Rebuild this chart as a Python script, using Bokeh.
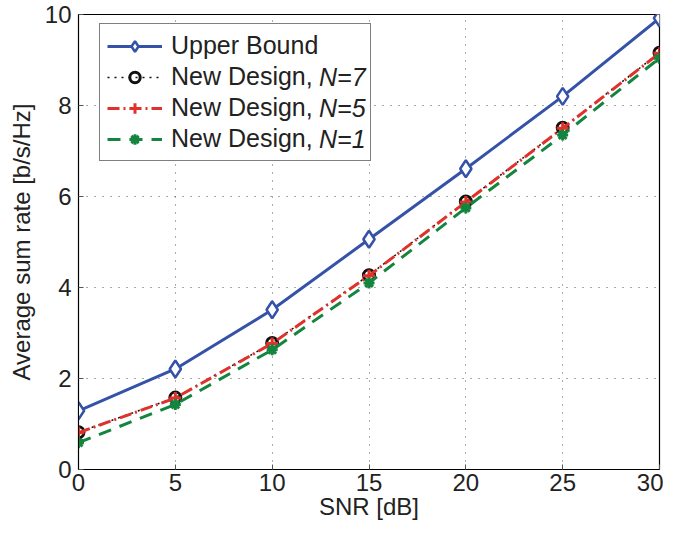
from bokeh.plotting import figure
from bokeh.models import Legend, LegendItem, FixedTicker
from bokeh.embed import file_html
from bokeh.resources import INLINE

# ---- data ----
snr = [0, 5, 10, 15, 20, 25, 30]
upper_bound = [1.29, 2.21, 3.51, 5.06, 6.61, 8.20, 9.92]
new_n7 = [0.82, 1.58, 2.78, 4.27, 5.89, 7.51, 9.16]
new_n5 = [0.81, 1.57, 2.77, 4.26, 5.88, 7.50, 9.15]
new_n1 = [0.59, 1.43, 2.63, 4.10, 5.75, 7.35, 9.04]
x_ticks = [0, 5, 10, 15, 20, 25, 30]
y_ticks = [0, 2, 4, 6, 8, 10]

FONT = "Liberation Sans"
BLUE = "#3452A8"
RED = "#E0312B"
GREEN = "#13853F"
BLACK = "#111111"

p = figure(width=663, height=523, output_backend="svg", toolbar_location=None,
           x_range=(0, 30), y_range=(0, 10),
           min_border_left=78, min_border_right=4, min_border_top=14, min_border_bottom=54)
p.background_fill_color = "white"
p.border_fill_color = "white"
p.outline_line_color = "black"
p.outline_line_width = 1.2

for ax in (p.xaxis[0], p.yaxis[0]):
    ax.major_label_text_font = FONT
    ax.major_label_text_font_size = "24px"
    ax.major_label_text_color = "#222222"
    ax.axis_label_text_font = FONT
    ax.axis_label_text_font_size = "24px"
    ax.axis_label_text_font_style = "normal"
    ax.axis_label_text_color = "#222222"
    ax.major_tick_in = 5
    ax.major_tick_out = 0
    ax.minor_tick_in = 0
    ax.minor_tick_out = 0
    ax.axis_line_color = "black"
    ax.major_tick_line_color = "#555555"

p.xaxis.ticker = FixedTicker(ticks=x_ticks)
p.yaxis.ticker = FixedTicker(ticks=y_ticks)
p.xaxis.axis_label = "SNR [dB]"
p.yaxis.axis_label = "Average sum rate [b/s/Hz]"
p.xaxis.major_label_standoff = 4
p.xaxis.axis_label_standoff = -1
p.yaxis.major_label_standoff = 7
p.yaxis.axis_label_standoff = 7

p.grid.grid_line_color = "#555555"
p.grid.grid_line_dash = "1 7"
p.grid.grid_line_width = 1

# ---- series ----
l_up = p.line(snr, upper_bound, line_color=BLUE, line_width=3)
m_up = p.scatter(snr, upper_bound, marker="diamond", size=17, line_color=BLUE,
                 line_width=2.5, fill_color="white")

l_n7 = p.line(snr, new_n7, line_color=BLACK, line_width=1.5, line_dash="2 5")
m_n7 = p.scatter(snr, new_n7, marker="circle", size=11, line_color=BLACK,
                 line_width=3, fill_color=None)

l_n5 = p.line(snr, new_n5, line_color=RED, line_width=3, line_dash="12 4 2 4")
m_n5 = p.scatter(snr, new_n5, marker="cross", size=12, line_color=RED, line_width=3)

l_n1 = p.line(snr, new_n1, line_color=GREEN, line_width=3, line_dash="13 9")
m_n1 = p.scatter(snr, new_n1, marker="asterisk", size=11, line_color=GREEN, line_width=3)

labels = ["Upper Bound", "New Design, ", "New Design, ", "New Design, "]
italic_parts = ["N=7", "N=5", "N=1"]

PAD = 7
SPACING = 2
LEG_X, LEG_Y = 21, 308

legend = Legend(items=[
    LegendItem(label=labels[0], renderers=[l_up, m_up]),
    LegendItem(label=labels[1], renderers=[l_n7, m_n7]),
    LegendItem(label=labels[2], renderers=[l_n5, m_n5]),
    LegendItem(label=labels[3], renderers=[l_n1, m_n1]),
], location=(LEG_X, LEG_Y))
legend.label_text_font = FONT
legend.label_text_font_size = "25px"
legend.label_text_color = "#222222"
legend.glyph_width = 55
legend.glyph_height = 26
legend.label_height = 26
legend.label_width = 192
legend.label_standoff = 9
legend.padding = PAD
legend.spacing = SPACING
legend.margin = 0
legend.border_line_color = "black"
legend.border_line_width = 1.5
legend.background_fill_color = "white"
legend.background_fill_alpha = 1
p.add_layout(legend)

# second, transparent legend carrying the italic "N=.." parts
em_new_design = 12179 / 2048.0  # width of "New Design, " in em (Arial metrics)
dummy = p.line(x=[], y=[], line_alpha=0)
glyph_w = int(round(55 + em_new_design * 25))
legend2 = Legend(items=[LegendItem(label=t, renderers=[dummy]) for t in italic_parts],
                 location=(LEG_X, LEG_Y))
legend2.label_text_font = FONT
legend2.label_text_font_size = "25px"
legend2.label_text_font_style = "italic"
legend2.label_text_color = "#222222"
legend2.glyph_width = glyph_w
legend2.glyph_height = 26
legend2.label_height = 26
legend2.label_standoff = 9
legend2.padding = PAD
legend2.spacing = SPACING
legend2.margin = 0
legend2.border_line_alpha = 0
legend2.background_fill_alpha = 0
p.add_layout(legend2)

open("out.html", "w").write(file_html(p, INLINE))
